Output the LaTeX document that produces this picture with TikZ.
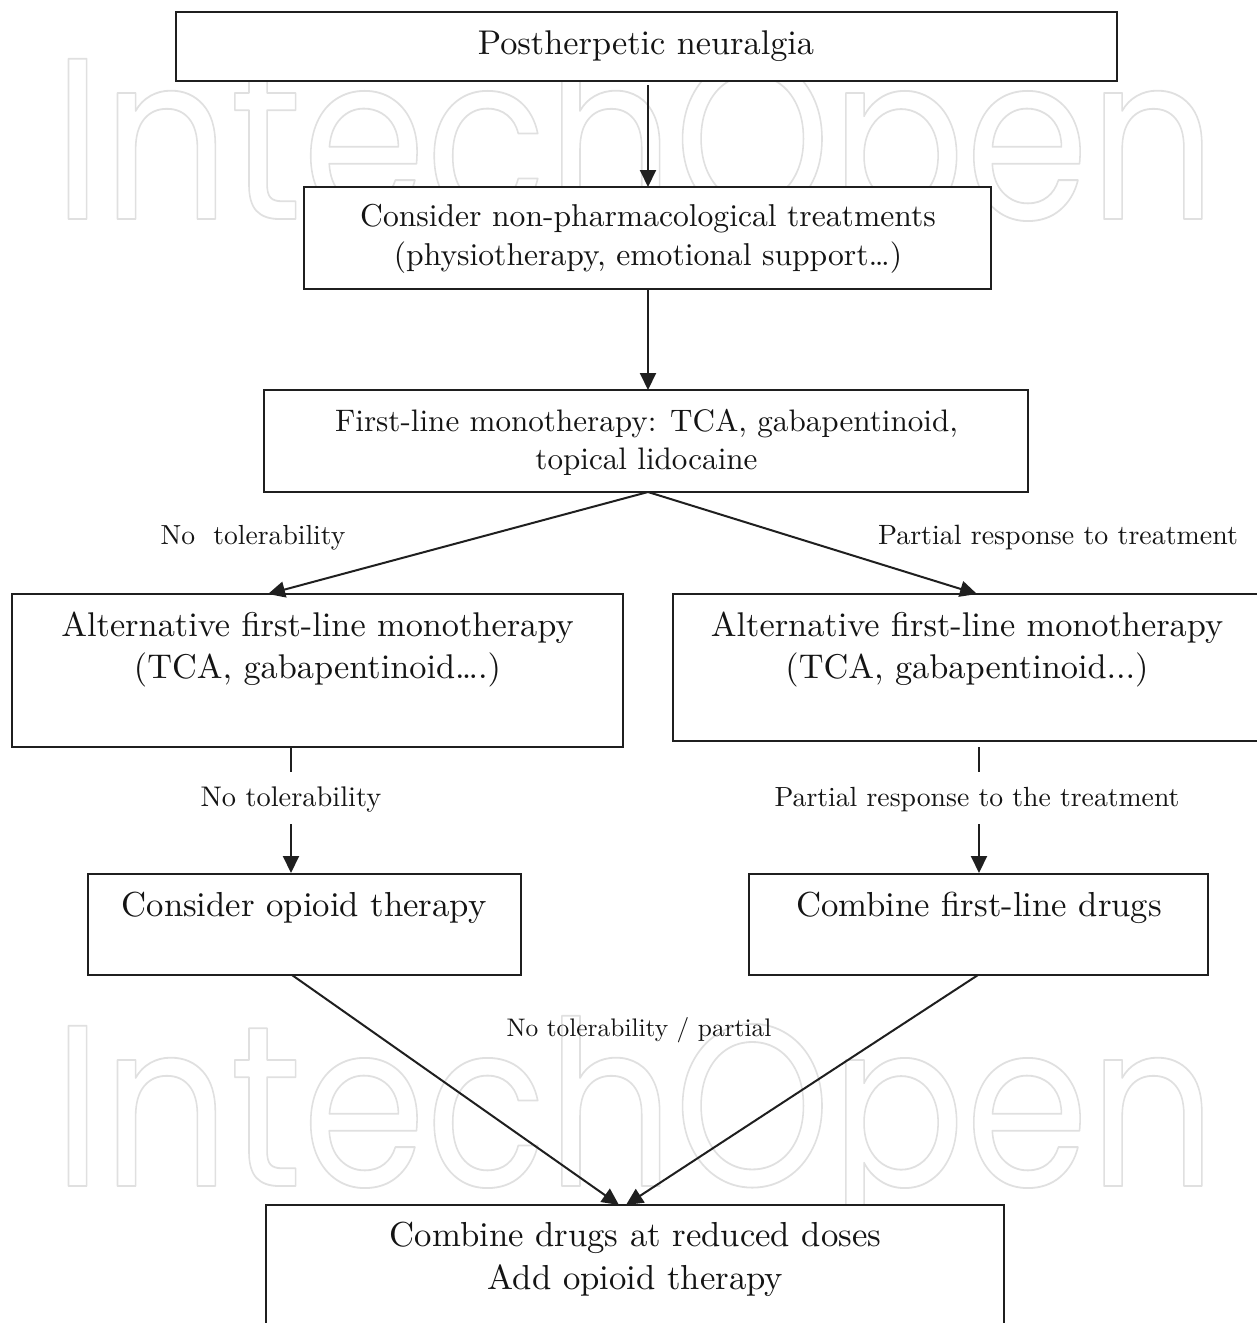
\documentclass[tikz,border=0pt]{standalone}
\usepackage{fontspec}
\setmainfont{lmroman10-regular.otf}
\newfontfamily\wmfont{Poppins}
\usetikzlibrary{arrows.meta}
\newcommand\fsz[2]{\fontsize{#1}{#2}\selectfont}
\begin{document}
\begin{tikzpicture}[x=1pt,y=-1pt,
  box/.style={draw=black!88, fill=white, line width=2pt, rectangle, inner sep=0},
  txt/.style={inner sep=0, align=center, text=black!92},
  arr/.style={draw=black!88, line width=2pt, -{Triangle[length=17pt,width=16pt]}},
  ln/.style={draw=black!88, line width=2pt},
  wm/.style={anchor=base west, inner sep=0, text=black!12, font=\wmfont\fsz{230}{230}}
]
\clip (0,0) rectangle (1257,1323);
\fill[white] (0,0) rectangle (1257,1323);
% watermark
\node[wm, xscale=0.866] (wm1) at (53,219) {\special{pdf:literal direct 1 Tr 1.8 w 1 j}IntechOpen\special{pdf:literal direct 0 Tr}};
\node[wm, xscale=0.866] (wm2) at (53,1186) {\special{pdf:literal direct 1 Tr 1.8 w 1 j}IntechOpen\special{pdf:literal direct 0 Tr}};

% boxes
\node[box, minimum width=941pt, minimum height=69pt]  (b1) at (646.5,46.5) {};
\node[box, minimum width=687pt, minimum height=102pt] (b2) at (647.5,238) {};
\node[box, minimum width=764pt, minimum height=102pt] (b3) at (646,441) {};
\node[box, minimum width=611pt, minimum height=153pt] (b4) at (317.5,670.5) {};
\node[box, minimum width=600pt, minimum height=147pt] (b5) at (973,667.5) {};
\node[box, minimum width=433pt, minimum height=101pt] (b6) at (304.5,924.5) {};
\node[box, minimum width=459pt, minimum height=101pt] (b7) at (978.5,924.5) {};
\node[box, minimum width=738pt, minimum height=140pt] (b8) at (635,1275) {};

% texts
\node[txt, font=\fsz{34.3}{41}] (t1) at (646,46) {Postherpetic neuralgia};
\node[txt, font=\fsz{31.6}{39}] (t2) at (648,239) {Consider non-pharmacological treatments\\(physiotherapy, emotional support\dots)};
\node[txt, font=\fsz{31.1}{38}] (t3) at (646.5,442) {First-line monotherapy: TCA, gabapentinoid,\\topical lidocaine};
\node[txt, font=\fsz{34.3}{42}] (t4) at (317.5,649) {Alternative first-line monotherapy\\(TCA, gabapentinoid\dots.)};
\node[txt, font=\fsz{34.3}{42}] (t5) at (967,649) {Alternative first-line monotherapy\\(TCA, gabapentinoid...)};
\node[txt, font=\fsz{34.7}{42}] (t6) at (304,908) {Consider opioid therapy};
\node[txt, font=\fsz{34.7}{42}] (t7) at (979,908) {Combine first-line drugs};
\node[txt, font=\fsz{34.7}{43}] (t8) at (635.5,1259.5) {Combine drugs at reduced doses\\Add opioid therapy};

% labels
\node[txt, font=\fsz{27.6}{33}] (l1) at (253,538) {No\ \ tolerability};
\node[txt, font=\fsz{27.9}{33}] (l2) at (1058,538) {Partial response to treatment};
\node[txt, font=\fsz{28.4}{33}] (l3) at (291,800) {No tolerability};
\node[txt, font=\fsz{27.7}{33}] (l4) at (977,800) {Partial response to the treatment};
\node[txt, font=\fsz{25.4}{30}] (l5) at (639,1030) {No tolerability / partial};

% connector ends
\coordinate (s1) at (648,85);
\coordinate (e1) at (648,187);
\coordinate (s2) at (648,289);
\coordinate (e2) at (648,390);
\coordinate (s3) at (648,492);
\coordinate (e4) at (268,594);
\coordinate (e5) at (977,594);
\coordinate (u4) at (291,747);
\coordinate (m4) at (291,772);
\coordinate (n4) at (291,824);
\coordinate (u5) at (979,747);
\coordinate (m5) at (979,772);
\coordinate (n5) at (979,824);
\coordinate (s6) at (292,975);
\coordinate (s7) at (978,975);
\coordinate (e8a) at (619,1205);
\coordinate (e8b) at (626,1205);

% connectors
\draw[arr] (s1) -- (e1 -| s1);
\draw[arr] (s2) -- (e2 -| s2);
\draw[arr] (s3) -- (e4);
\draw[arr] (s3) -- (e5);
\draw[ln] (u4) -- (m4);
\draw[arr] (n4) -- (b6.north -| n4);
\draw[ln] (u5) -- (m5);
\draw[arr] (n5) -- (b7.north -| n5);
\draw[arr] (s6) -- (e8a);
\draw[arr] (s7) -- (e8b);
\end{tikzpicture}
\end{document}
